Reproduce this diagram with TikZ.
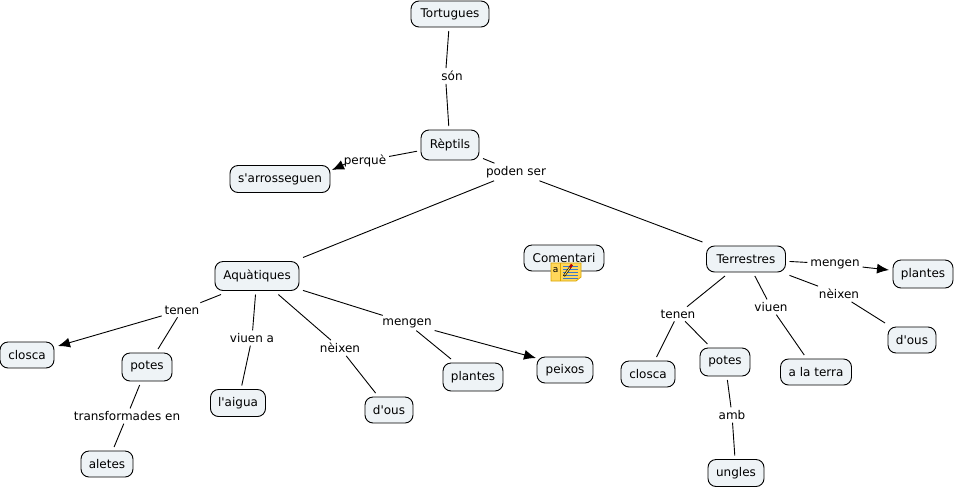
\documentclass[tikz,border=0pt]{standalone}
\usepackage{fontspec}
\setmainfont{DejaVu Sans}
\usetikzlibrary{arrows.meta, positioning}
\definecolor{cBox}{HTML}{EEF3F6}
\definecolor{cNote}{HTML}{FFD75A}
\definecolor{cNoteEdge}{HTML}{D9A400}
\definecolor{cNoteLine}{HTML}{3A78C8}
\tikzset{
  concept/.style={rectangle, rounded corners=8pt, draw=black, fill=cBox, line width=0.9pt,
                  minimum height=26pt, inner sep=0pt, outer sep=4pt,
                  align=center, font=\fontsize{12}{14}\selectfont},
  linklabel/.style={inner sep=1pt, outer sep=2pt, font=\fontsize{12}{14}\selectfont},
  linkline/.style={line width=0.9pt, black},
  linkarrow/.style={linkline, -{Latex[length=12pt,width=10pt]}},
}
\begin{document}
\begin{tikzpicture}[x=1pt,y=-1pt]
  \useasboundingbox (0,0) rectangle (955,488);

  % Cap de l'arbre
  \node[concept, minimum width=78pt] (tortugues) at (450,14) {Tortugues};
  \node[linklabel] (son) at (452,76) {són};
  \node[concept, minimum width=58pt, minimum height=30pt] (reptils) at (450,145) {Rèptils};
  \node[linklabel] (perque) at (365,161) {perquè};
  \node[concept, minimum width=100pt, minimum height=27pt] (arrosseguen) at (280,179) {s\textquotesingle arrosseguen};
  \node[linklabel] (podenser) at (516,172) {poden ser};
  \coordinate (perquetail) at (345,164);
  \coordinate (perquetip) at (332,170);
  \draw[linkline] (tortugues) -- ([xshift=-6pt]son.north);
  \draw[linkline] ([xshift=-6pt]son.south) -- (reptils);
  \draw[linkline] (reptils) -- (perque);
  \draw[linkarrow] (perquetail) -- (perquetip);
  \draw[linkline] (reptils) -- (podenser);

  % Aquatiques
  \node[concept, minimum width=84pt, minimum height=29pt] (aquatiques) at (257,276) {Aquàtiques};
  \node[linklabel] (tenenA) at (182,310) {tenen};
  \node[linklabel] (viuenA) at (252,338) {viuen a};
  \node[linklabel] (neixenA) at (340,348) {nèixen};
  \node[linklabel] (mengenA) at (407,323) {mengen};
  \node[concept, minimum width=54pt] (closcaA) at (27,355) {closca};
  \node[concept, minimum width=50pt, minimum height=28pt] (potesA) at (147,367) {potes};
  \node[linklabel] (transf) at (127,416) {transformades en};
  \node[concept, minimum width=52pt] (aletes) at (107,464) {aletes};
  \node[concept, minimum width=55pt, minimum height=27pt] (aigua) at (238,403) {l\textquotesingle aigua};
  \node[concept, minimum width=48pt] (ousA) at (389,410) {d\textquotesingle ous};
  \node[concept, minimum width=60pt, minimum height=28pt] (plantesA) at (473,377) {plantes};
  \node[concept, minimum width=56pt] (peixos) at (565,370) {peixos};
  \draw[linkline] (podenser) -- (aquatiques.north east);
  \draw[linkline] ([xshift=10pt]aquatiques.south west) -- (tenenA);
  \draw[linkarrow] (tenenA) -- (closcaA);
  \draw[linkline] (tenenA) -- (potesA);
  \draw[linkline] (potesA) -- (transf);
  \draw[linkline] (transf) -- (aletes);
  \draw[linkline] (aquatiques) -- (viuenA);
  \draw[linkline] (viuenA) -- (aigua);
  \draw[linkline] (aquatiques) -- (neixenA);
  \draw[linkline] (neixenA) -- (ousA);
  \draw[linkline] (aquatiques) -- (mengenA);
  \draw[linkline] (mengenA) -- (plantesA);
  \draw[linkarrow] (mengenA) -- ([xshift=3pt,yshift=-5pt]peixos.north west);

  % Terrestres
  \node[concept, minimum width=79pt] (terrestres) at (746,259) {Terrestres};
  \node[linklabel] (mengenT) at (835,264) {mengen};
  \node[linklabel] (neixenT) at (839,294) {nèixen};
  \node[linklabel] (tenenT) at (678,314) {tenen};
  \node[linklabel] (viuenT) at (771,307) {viuen};
  \node[linklabel] (amb) at (732,415) {amb};
  \node[concept, minimum width=60pt, minimum height=28pt] (plantesT) at (923,274) {plantes};
  \node[concept, minimum width=48pt] (ousT) at (912,340) {d\textquotesingle ous};
  \node[concept, minimum width=54pt] (closcaT) at (648,374) {closca};
  \node[concept, minimum width=50pt, minimum height=28pt] (potesT) at (725,362) {potes};
  \node[concept, minimum width=71pt] (terra) at (816,372) {a la terra};
  \node[concept, minimum width=56pt, minimum height=27pt] (ungles) at (736,473) {ungles};
  \draw[linkline] (podenser) -- (terrestres.north west);
  \draw[linkline] (terrestres) -- (mengenT);
  \draw[linkarrow] (mengenT) -- ([yshift=4pt]plantesT.west);
  \draw[linkline] (terrestres) -- (neixenT);
  \draw[linkline] (neixenT) -- (ousT);
  \draw[linkline] (terrestres) -- (tenenT);
  \draw[linkline] (tenenT) -- (closcaT);
  \draw[linkline] (tenenT) -- (potesT);
  \draw[linkline] (potesT) -- (amb);
  \draw[linkline] (amb) -- (ungles);
  \draw[linkline] (terrestres) -- (viuenT);
  \draw[linkline] (viuenT) -- (terra);

  % Comentari i nota
  \node[concept, minimum width=80pt] (comentari) at (564,258) {Comentari};
  \draw[cNoteEdge, fill=cNote, line width=0.8pt] (551,263) -- (581,263) -- (581,277) -- (576,281) -- (551,281) -- cycle;
  \draw[cNoteEdge, line width=0.6pt] (560,263) -- (560,281);
  \node[inner sep=0pt, font=\fontsize{9}{9}\selectfont] (notea) at (555.5,270) {a};
  \foreach \y in {266,269,272,275,278}
    \draw[cNoteLine, line width=0.8pt] (563,\y) -- (578,\y);
  \draw[black, line width=2.2pt] (564,276) -- (571,266);
  \draw[cNote, line width=1pt] (564.5,275.3) -- (570.5,266.7);
  \draw[red!70!black, line width=2.4pt] (570,267.5) -- (572,264.5);
\end{tikzpicture}
\end{document}
